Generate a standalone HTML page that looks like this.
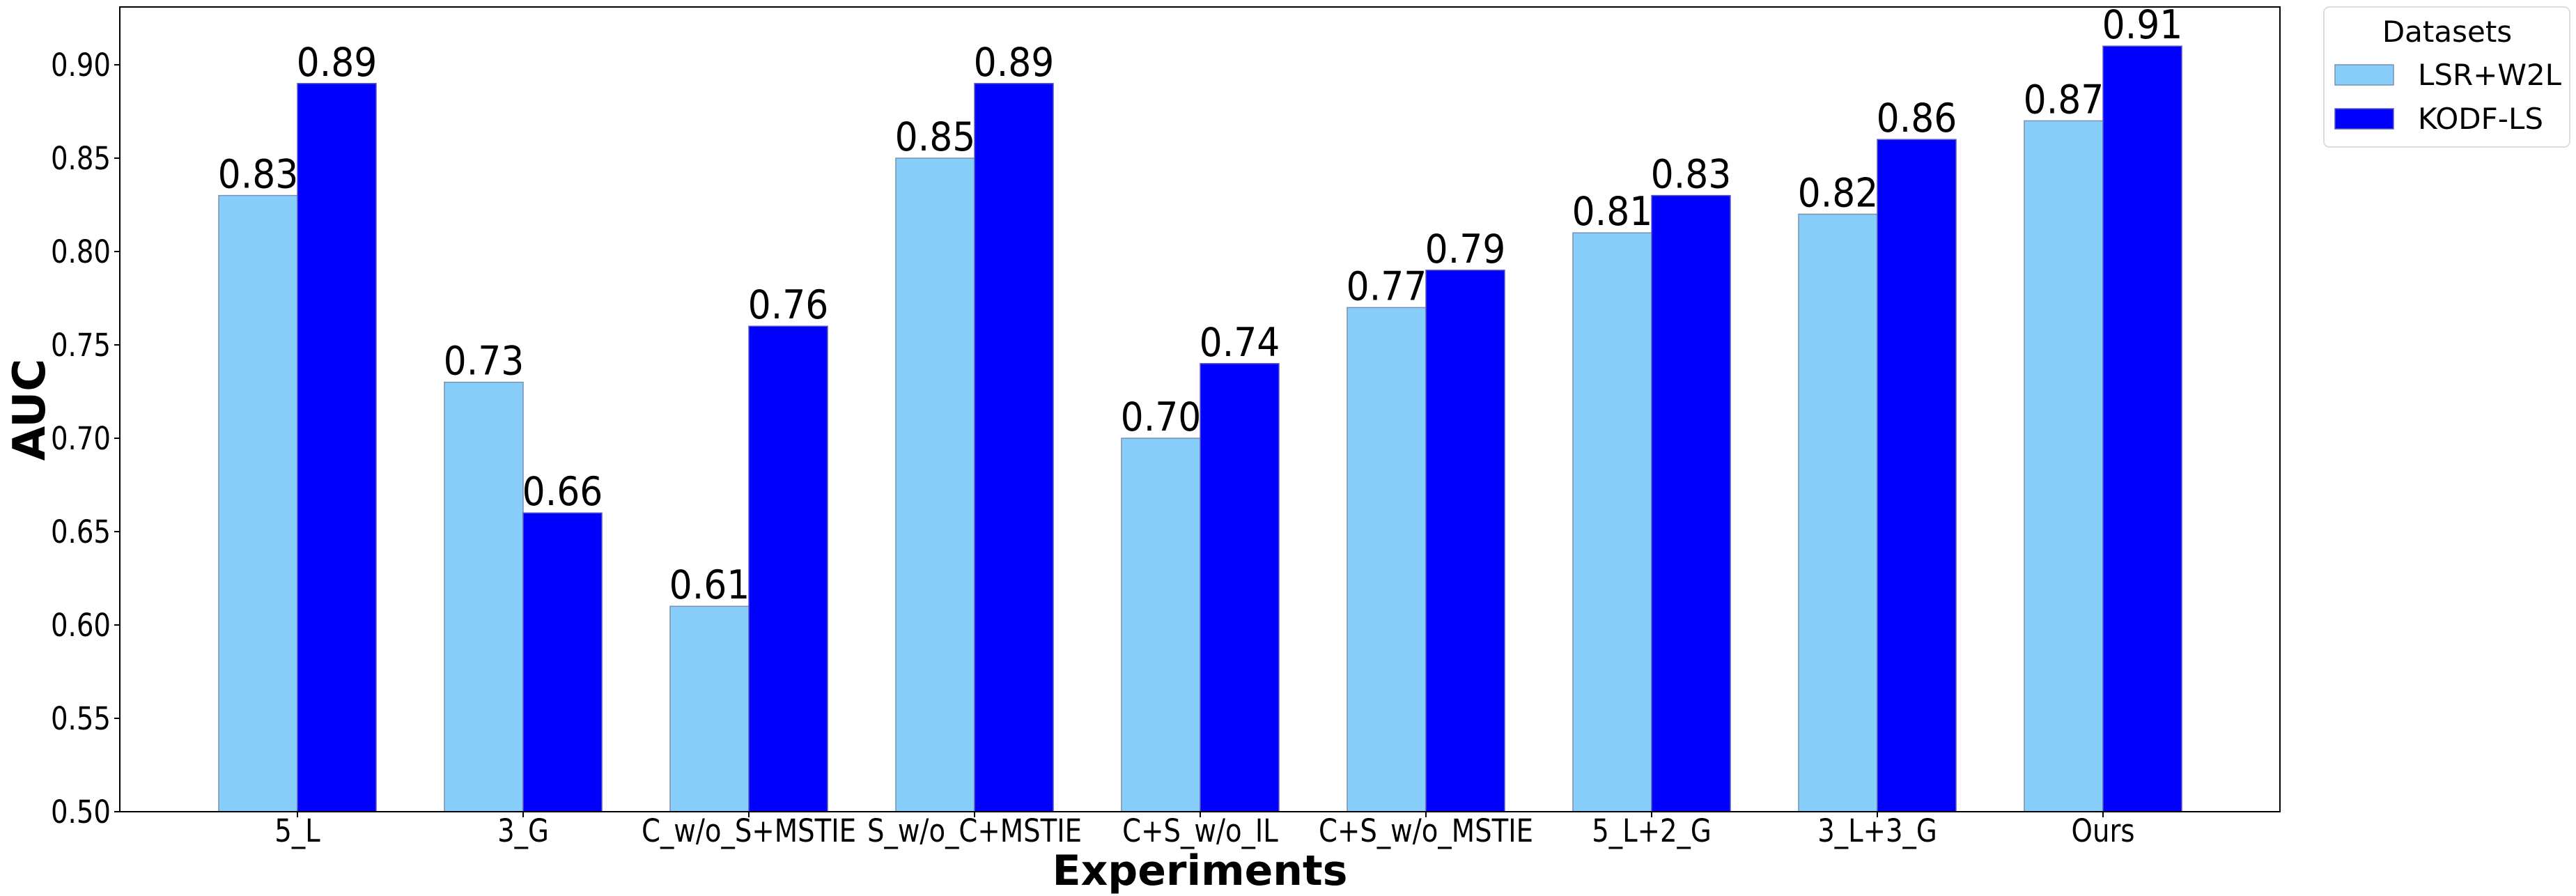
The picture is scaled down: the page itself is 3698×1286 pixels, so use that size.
<!DOCTYPE html>
<html><head><meta charset="utf-8"><style>
html,body{margin:0;padding:0;background:#fff;}
svg{display:block;font-family:"DejaVu Sans","Liberation Sans",sans-serif;}
</style></head><body>
<svg id="chart" width="3698" height="1286" viewBox="0 0 3698 1286" xmlns="http://www.w3.org/2000/svg">
<g id="plot"></g>
</svg>
<script>
const categories = ["5_L","3_G","C_w/o_S+MSTIE","S_w/o_C+MSTIE","C+S_w/o_IL","C+S_w/o_MSTIE","5_L+2_G","3_L+3_G","Ours"];
const lsrValues = [0.83,0.73,0.61,0.85,0.70,0.77,0.81,0.82,0.87];
const kodfValues = [0.89,0.66,0.76,0.89,0.74,0.79,0.83,0.86,0.91];
const yTicks = [0.50,0.55,0.60,0.65,0.70,0.75,0.80,0.85,0.90];

const NS="http://www.w3.org/2000/svg";
const L=172,R=3273,T=10,B=1165;
const first=427, step=324, bw=113;
function xc(i){return first+i*step;}
function y(v){return B-(v-0.5)/0.05*134;}
const g=document.getElementById('plot');
function mk(tag,attrs,text){const e=document.createElementNS(NS,tag);for(const k in attrs)e.setAttribute(k,attrs[k]);if(text!==undefined)e.textContent=text;g.appendChild(e);return e;}

yTicks.forEach(t=>{
  const tk=mk('line',{x1:L-8,x2:L,y1:y(t),y2:y(t),stroke:'#000','stroke-width':2});
  
  
  const lb=mk('text',{x:0,y:0,'font-size':42,'text-anchor':'end',fill:'#000',transform:`translate(${L-13},${y(t)+16}) scale(0.92,1.08)`},t.toFixed(2));
  
  
});

categories.forEach((c,i)=>{
  const cx=xc(i);
  const a=lsrValues[i], b=kodfValues[i];
  const r1=mk('rect',{x:cx-bw,y:y(a),width:bw,height:B-y(a),fill:'#87CEFA',stroke:'#7a8fb0','stroke-width':1.5});
  
  
  const r2=mk('rect',{x:cx,y:y(b),width:bw,height:B-y(b),fill:'#0000FF',stroke:'#5a5ac0','stroke-width':1.5});
  
  
  const t1=mk('text',{x:0,y:0,'font-size':52,'text-anchor':'middle',fill:'#000',transform:`translate(${cx-bw/2},${y(a)-11}) scale(1,1.1)`},a.toFixed(2));
  
  
  const t2=mk('text',{x:0,y:0,'font-size':52,'text-anchor':'middle',fill:'#000',transform:`translate(${cx+bw/2},${y(b)-11}) scale(1,1.1)`},b.toFixed(2));
  
  
  const tk=mk('line',{x1:cx,x2:cx,y1:B,y2:B+8,stroke:'#000','stroke-width':2});
  
  
  const xl=mk('text',{x:0,y:0,'font-size':42,'text-anchor':'middle',fill:'#000',transform:`translate(${cx},1208) scale(0.92,1.08)`},c);
  
  
});

const frame=mk('rect',{x:L,y:T,width:R-L,height:B-T,fill:'none',stroke:'#000','stroke-width':2});



const xt=mk('text',{x:(L+R)/2,y:1270,'font-size':60,'font-weight':'bold','text-anchor':'middle',fill:'#000'},'Experiments');


const yt=mk('text',{x:0,y:0,'font-size':64,'font-weight':'bold','text-anchor':'middle',fill:'#000',transform:'translate(64,588) rotate(-90)'},'AUC');



const lg=mk('rect',{x:3336,y:10,width:353,height:201,rx:8,fill:'#fff',stroke:'#ddd','stroke-width':2});


const lt=mk('text',{x:3513,y:60,'font-size':42,'text-anchor':'middle',fill:'#000'},'Datasets');


const p1=mk('rect',{x:3352,y:93,width:84,height:29,fill:'#87CEFA',stroke:'#7a8fb0','stroke-width':1.5});


const l1=mk('text',{x:3471,y:122,'font-size':42,fill:'#000'},'LSR+W2L');


const p2=mk('rect',{x:3352,y:156,width:84,height:29,fill:'#0000FF',stroke:'#5a5ac0','stroke-width':1.5});


const l2=mk('text',{x:3471,y:185,'font-size':42,fill:'#000'},'KODF-LS');


</script>
</body></html>
